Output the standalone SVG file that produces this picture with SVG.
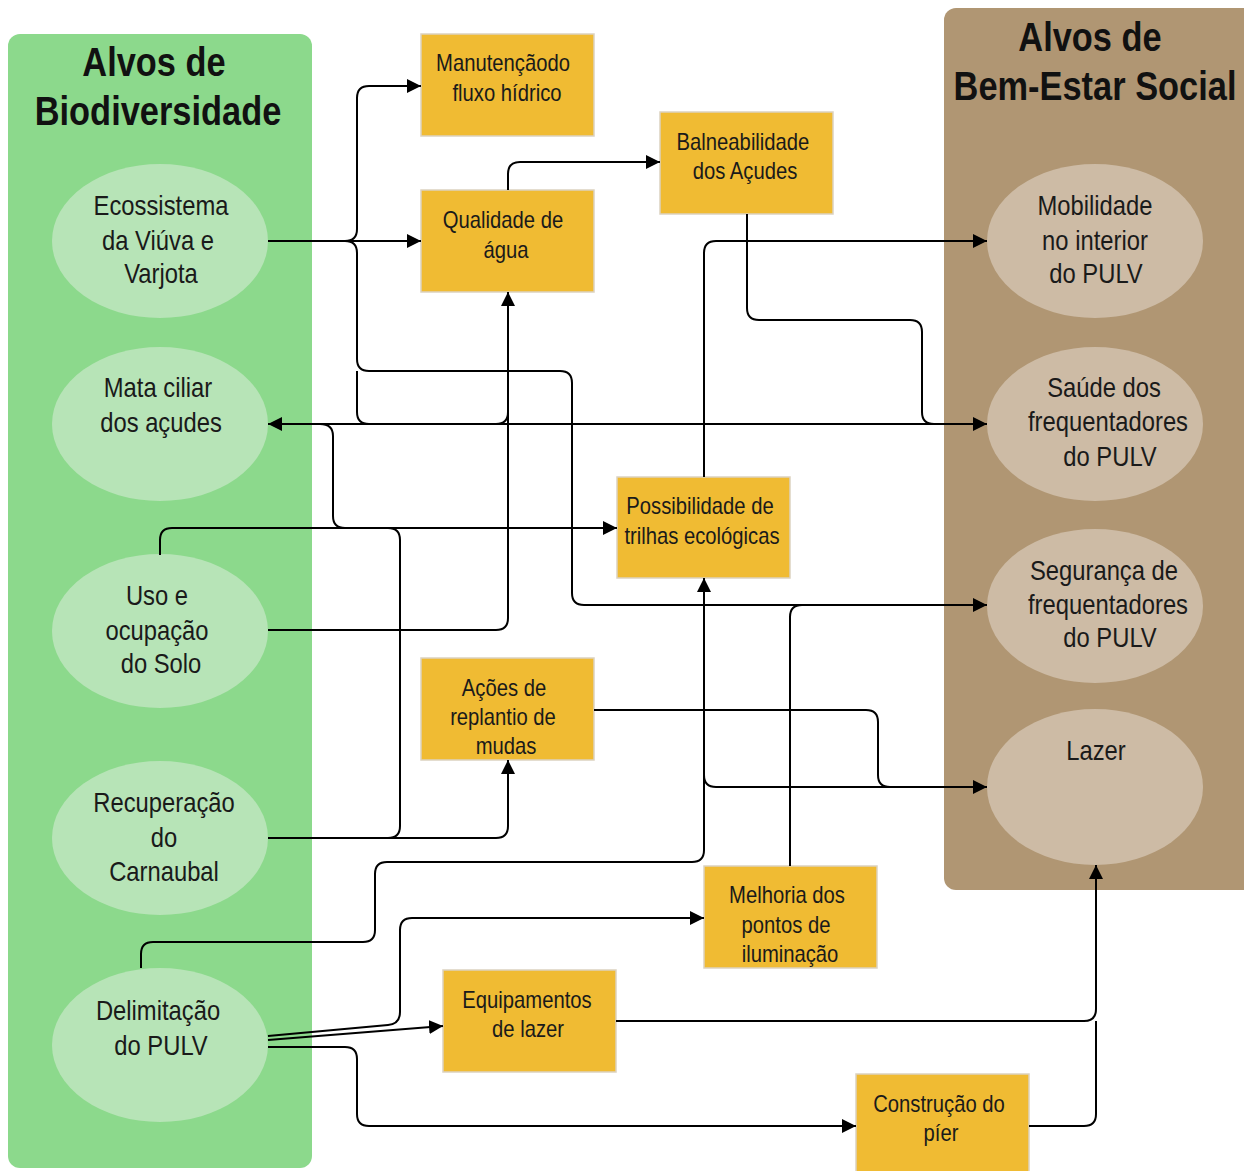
<svg xmlns="http://www.w3.org/2000/svg" width="1244" height="1171" viewBox="0 0 1244 1171">
<defs>
<marker id="arr" markerUnits="userSpaceOnUse" markerWidth="14" markerHeight="14" viewBox="0 0 14 14" refX="14" refY="7" orient="auto-start-reverse"><path d="M0,0 L14,7 L0,14 z" fill="#000"/></marker>
<style>
.title{font-family:"Liberation Sans",Arial,sans-serif;font-weight:bold;font-size:40px;fill:#111;text-anchor:middle}
.et{font-family:"Liberation Sans",Arial,sans-serif;font-size:28px;fill:#1a1a1a;text-anchor:middle}
.bt{font-family:"Liberation Sans",Arial,sans-serif;font-size:23px;fill:#1a1a1a;text-anchor:middle}
.ge{fill:#b7e4b7}
.be{fill:#cdbba5}
.box{fill:#f0bb33;stroke:#dcd2c0;stroke-width:1.5}
.c{fill:none;stroke:#000;stroke-width:2}
.a{marker-end:url(#arr)}
</style>
</defs>
<rect width="1244" height="1171" fill="#fff"/>
<g id="panel-bio">
<rect x="8" y="34" width="304" height="1134" rx="12" fill="#8cd98c"/>
<text class="title" transform="translate(154,76) scale(0.86,1)">Alvos de</text>
<text class="title" transform="translate(158,125) scale(0.86,1)">Biodiversidade</text>
</g>
<g id="panel-social">
<rect x="944" y="8" width="312" height="882" rx="12" fill="#b09673"/>
<text class="title" transform="translate(1090,51) scale(0.86,1)">Alvos de</text>
<text class="title" transform="translate(1095,100) scale(0.86,1)">Bem-Estar Social</text>
</g>
<g id="ecossistema"><ellipse class="ge" cx="160" cy="241" rx="108" ry="77"/><text class="et" transform="translate(161,215) scale(0.85,1)">Ecossistema</text><text class="et" transform="translate(158,250) scale(0.85,1)">da Viúva e</text><text class="et" transform="translate(161,283) scale(0.85,1)">Varjota</text></g>
<g id="mata-ciliar"><ellipse class="ge" cx="160" cy="424" rx="108" ry="77"/><text class="et" transform="translate(158,397) scale(0.85,1)">Mata ciliar</text><text class="et" transform="translate(161,432) scale(0.85,1)">dos açudes</text></g>
<g id="uso-solo"><ellipse class="ge" cx="160" cy="631" rx="108" ry="77"/><text class="et" transform="translate(157,605) scale(0.85,1)">Uso e</text><text class="et" transform="translate(157,640) scale(0.85,1)">ocupação</text><text class="et" transform="translate(161,673) scale(0.85,1)">do Solo</text></g>
<g id="carnaubal"><ellipse class="ge" cx="160" cy="838" rx="108" ry="77"/><text class="et" transform="translate(164,812) scale(0.85,1)">Recuperação</text><text class="et" transform="translate(164,847) scale(0.85,1)">do</text><text class="et" transform="translate(164,881) scale(0.85,1)">Carnaubal</text></g>
<g id="delimitacao"><ellipse class="ge" cx="160" cy="1045" rx="108" ry="77"/><text class="et" transform="translate(158,1020) scale(0.85,1)">Delimitação</text><text class="et" transform="translate(161,1055) scale(0.85,1)">do PULV</text></g>
<g id="mobilidade"><ellipse class="be" cx="1095" cy="241" rx="108" ry="77"/><text class="et" transform="translate(1095,215) scale(0.85,1)">Mobilidade</text><text class="et" transform="translate(1095,250) scale(0.85,1)">no interior</text><text class="et" transform="translate(1096,283) scale(0.85,1)">do PULV</text></g>
<g id="saude"><ellipse class="be" cx="1095" cy="424" rx="108" ry="77"/><text class="et" transform="translate(1104,397) scale(0.85,1)">Saúde dos</text><text class="et" transform="translate(1108,431) scale(0.85,1)">frequentadores</text><text class="et" transform="translate(1110,466) scale(0.85,1)">do PULV</text></g>
<g id="seguranca"><ellipse class="be" cx="1095" cy="606" rx="108" ry="77"/><text class="et" transform="translate(1104,580) scale(0.85,1)">Segurança de</text><text class="et" transform="translate(1108,614) scale(0.85,1)">frequentadores</text><text class="et" transform="translate(1110,647) scale(0.85,1)">do PULV</text></g>
<g id="lazer"><ellipse class="be" cx="1095" cy="787" rx="108" ry="78"/><text class="et" transform="translate(1096,760) scale(0.85,1)">Lazer</text></g>
<g id="manutencao"><rect class="box" x="421" y="34" width="173" height="102"/><text class="bt" transform="translate(503,71) scale(0.88,1)">Manutençãodo</text><text class="bt" transform="translate(507,101) scale(0.88,1)">fluxo hídrico</text></g>
<g id="qualidade"><rect class="box" x="421" y="190" width="173" height="102"/><text class="bt" transform="translate(503,228) scale(0.88,1)">Qualidade de</text><text class="bt" transform="translate(506,258) scale(0.88,1)">água</text></g>
<g id="balneabilidade"><rect class="box" x="660" y="112" width="173" height="102"/><text class="bt" transform="translate(743,150) scale(0.88,1)">Balneabilidade</text><text class="bt" transform="translate(745,179) scale(0.88,1)">dos Açudes</text></g>
<g id="trilhas"><rect class="box" x="617" y="477" width="173" height="101"/><text class="bt" transform="translate(700,514) scale(0.88,1)">Possibilidade de</text><text class="bt" transform="translate(702,544) scale(0.88,1)">trilhas ecológicas</text></g>
<g id="replantio"><rect class="box" x="421" y="658" width="173" height="102"/><text class="bt" transform="translate(504,696) scale(0.88,1)">Ações de</text><text class="bt" transform="translate(503,725) scale(0.88,1)">replantio de</text><text class="bt" transform="translate(506,754) scale(0.88,1)">mudas</text></g>
<g id="iluminacao"><rect class="box" x="704" y="866" width="173" height="102"/><text class="bt" transform="translate(787,903) scale(0.88,1)">Melhoria dos</text><text class="bt" transform="translate(786,933) scale(0.88,1)">pontos de</text><text class="bt" transform="translate(790,962) scale(0.88,1)">iluminação</text></g>
<g id="equipamentos"><rect class="box" x="443" y="970" width="173" height="102"/><text class="bt" transform="translate(527,1008) scale(0.88,1)">Equipamentos</text><text class="bt" transform="translate(528,1037) scale(0.88,1)">de lazer</text></g>
<g id="pier"><rect class="box" x="856" y="1074" width="173" height="102"/><text class="bt" transform="translate(939,1112) scale(0.88,1)">Construção do</text><text class="bt" transform="translate(941,1141) scale(0.88,1)">píer</text></g>
<g id="connectors">
<path class="c a" d="M268,241 H421"/>
<path class="c a" d="M345,241 Q357,241 357,229 V98 Q357,86 369,86 H421"/>
<path class="c a" d="M345,241 Q357,241 357,253 V359 Q357,371 369,371 H560 Q572,371 572,383 V593 Q572,605 584,605 H987"/>
<path class="c" d="M357,371 V412 Q357,424 369,424 H496 Q508,424 508,412"/>
<path class="c a" style="marker-start:url(#arr)" d="M268,424 H987"/>
<path class="c" d="M320,424 Q333,424 333,436 V516 Q333,528 345,528"/>
<path class="c a" d="M160,555 V540 Q160,528 172,528 H617"/>
<path class="c a" d="M268,630 H496 Q508,630 508,618 V292"/>
<path class="c a" d="M508,190 V174 Q508,162 520,162 H660"/>
<path class="c" d="M747,214 V308 Q747,320 759,320 H910 Q922,320 922,332 V412 Q922,424 934,424 H960"/>
<path class="c a" d="M704,477 V253 Q704,241 716,241 H987"/>
<path class="c a" d="M594,710 H866 Q878,710 878,722 V775 Q878,787 890,787 H987"/>
<path class="c a" d="M141,968 V954 Q141,942 153,942 H363 Q375,942 375,930 V874 Q375,862 387,862 H692 Q704,862 704,850 V578"/>
<path class="c" d="M704,775 Q704,787 716,787 H900"/>
<path class="c" d="M790,866 V617 Q790,605 802,605 H960"/>
<path class="c a" d="M268,1036 L388,1025 Q400,1024 400,1012 V930 Q400,918 412,918 H704"/>
<path class="c a" d="M268,1040 L443,1026"/>
<path class="c a" d="M268,1047 H345 Q357,1047 357,1059 V1114 Q357,1126 369,1126 H856"/>
<path class="c a" d="M616,1021 H1084 Q1096,1021 1096,1009 V865"/>
<path class="c" d="M1029,1126 H1084 Q1096,1126 1096,1114 V1021"/>
<path class="c a" d="M268,838 H496 Q508,838 508,826 V760"/>
<path class="c" d="M388,838 Q400,838 400,826 V540 Q400,528 388,528"/>
</g>
</svg>
